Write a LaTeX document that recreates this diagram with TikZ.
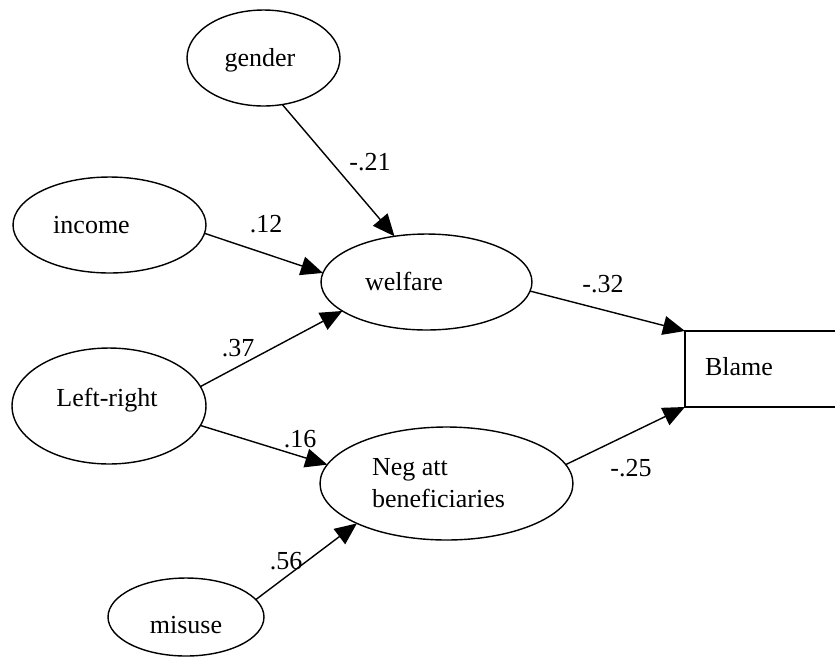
\documentclass[tikz,border=0pt]{standalone}
\usepackage{fontspec}
\setmainfont{Liberation Serif}
\usetikzlibrary{shapes}
\usetikzlibrary{arrows.meta}

\begin{document}
\begin{tikzpicture}[x=0.02cm,y=-0.02cm]
	\tikzstyle{every node}+=[inner sep=0pt, font=\fontsize{14.8}{18.2}\selectfont]
	\tikzstyle{var}=[draw=black, ellipse, line width=0.8pt, outer sep=0pt]
	\tikzstyle{arr}=[black, line width=0.8pt, -{Triangle[length=0.44cm,width=0.38cm]}]
	\path [use as bounding box] (0,0) rectangle (835,657);
	\clip (0,0) rectangle (835,657);
	\node [var, minimum width=3.06cm, minimum height=1.92cm, label={[anchor=base, xshift=-0.07cm, yshift=-0.04cm]center:gender}] (gender) at (263.5,58) {};
	\node [var, minimum width=3.86cm, minimum height=1.92cm, label={[anchor=base, xshift=-0.36cm]center:income}] (income) at (109.5,225) {};
	\node [var, minimum width=4.22cm, minimum height=1.92cm, label={[anchor=base, xshift=-0.45cm, yshift=0.02cm]center:welfare}] (welfare) at (426.5,282) {};
	\node [var, minimum width=3.88cm, minimum height=2.32cm, label={[anchor=base, xshift=-0.04cm, yshift=0.12cm]center:Left-right}] (leftright) at (109,406) {};
	\node [var, minimum width=5.06cm, minimum height=2.26cm, label={[align=left, xshift=-0.16cm]center:Neg att\\beneficiaries}] (negatt) at (446.5,483.5) {};
	\node [var, minimum width=3.12cm, minimum height=1.56cm, label={[anchor=base, yshift=-0.16cm]center:misuse}] (misuse) at (186,617) {};
	\node [draw=black, rectangle, line width=0.8pt, outer sep=0pt, anchor=north west, minimum width=4cm, minimum height=1.52cm, label={[anchor=base, xshift=-0.92cm, yshift=0.04cm]center:Blame}] (blame) at (685,331) {};
	\draw [arr] (gender.-68) -- (welfare.125);
	\draw [arr] (income.-5) -- (welfare.175);
	\draw [arr] (leftright.12) -- (welfare.199);
	\draw [arr] (leftright.-12) -- (negatt.171);
	\draw [arr] (misuse.14) -- (negatt.204);
	\draw [arr] (welfare.-5) -- (blame.north west);
	\draw [arr] (negatt.9) -- (blame.south west);
	\node [anchor=base] (w21) at (370,170) {-.21};
	\node [anchor=base] (w12) at (266,232) {.12};
	\node [anchor=base] (w37) at (238,356) {.37};
	\node [anchor=base] (w16) at (300,447) {.16};
	\node [anchor=base] (w56) at (286,569) {.56};
	\node [anchor=base] (w32) at (603,292) {-.32};
	\node [anchor=base] (w25) at (631,476) {-.25};
\end{tikzpicture}
\end{document}
